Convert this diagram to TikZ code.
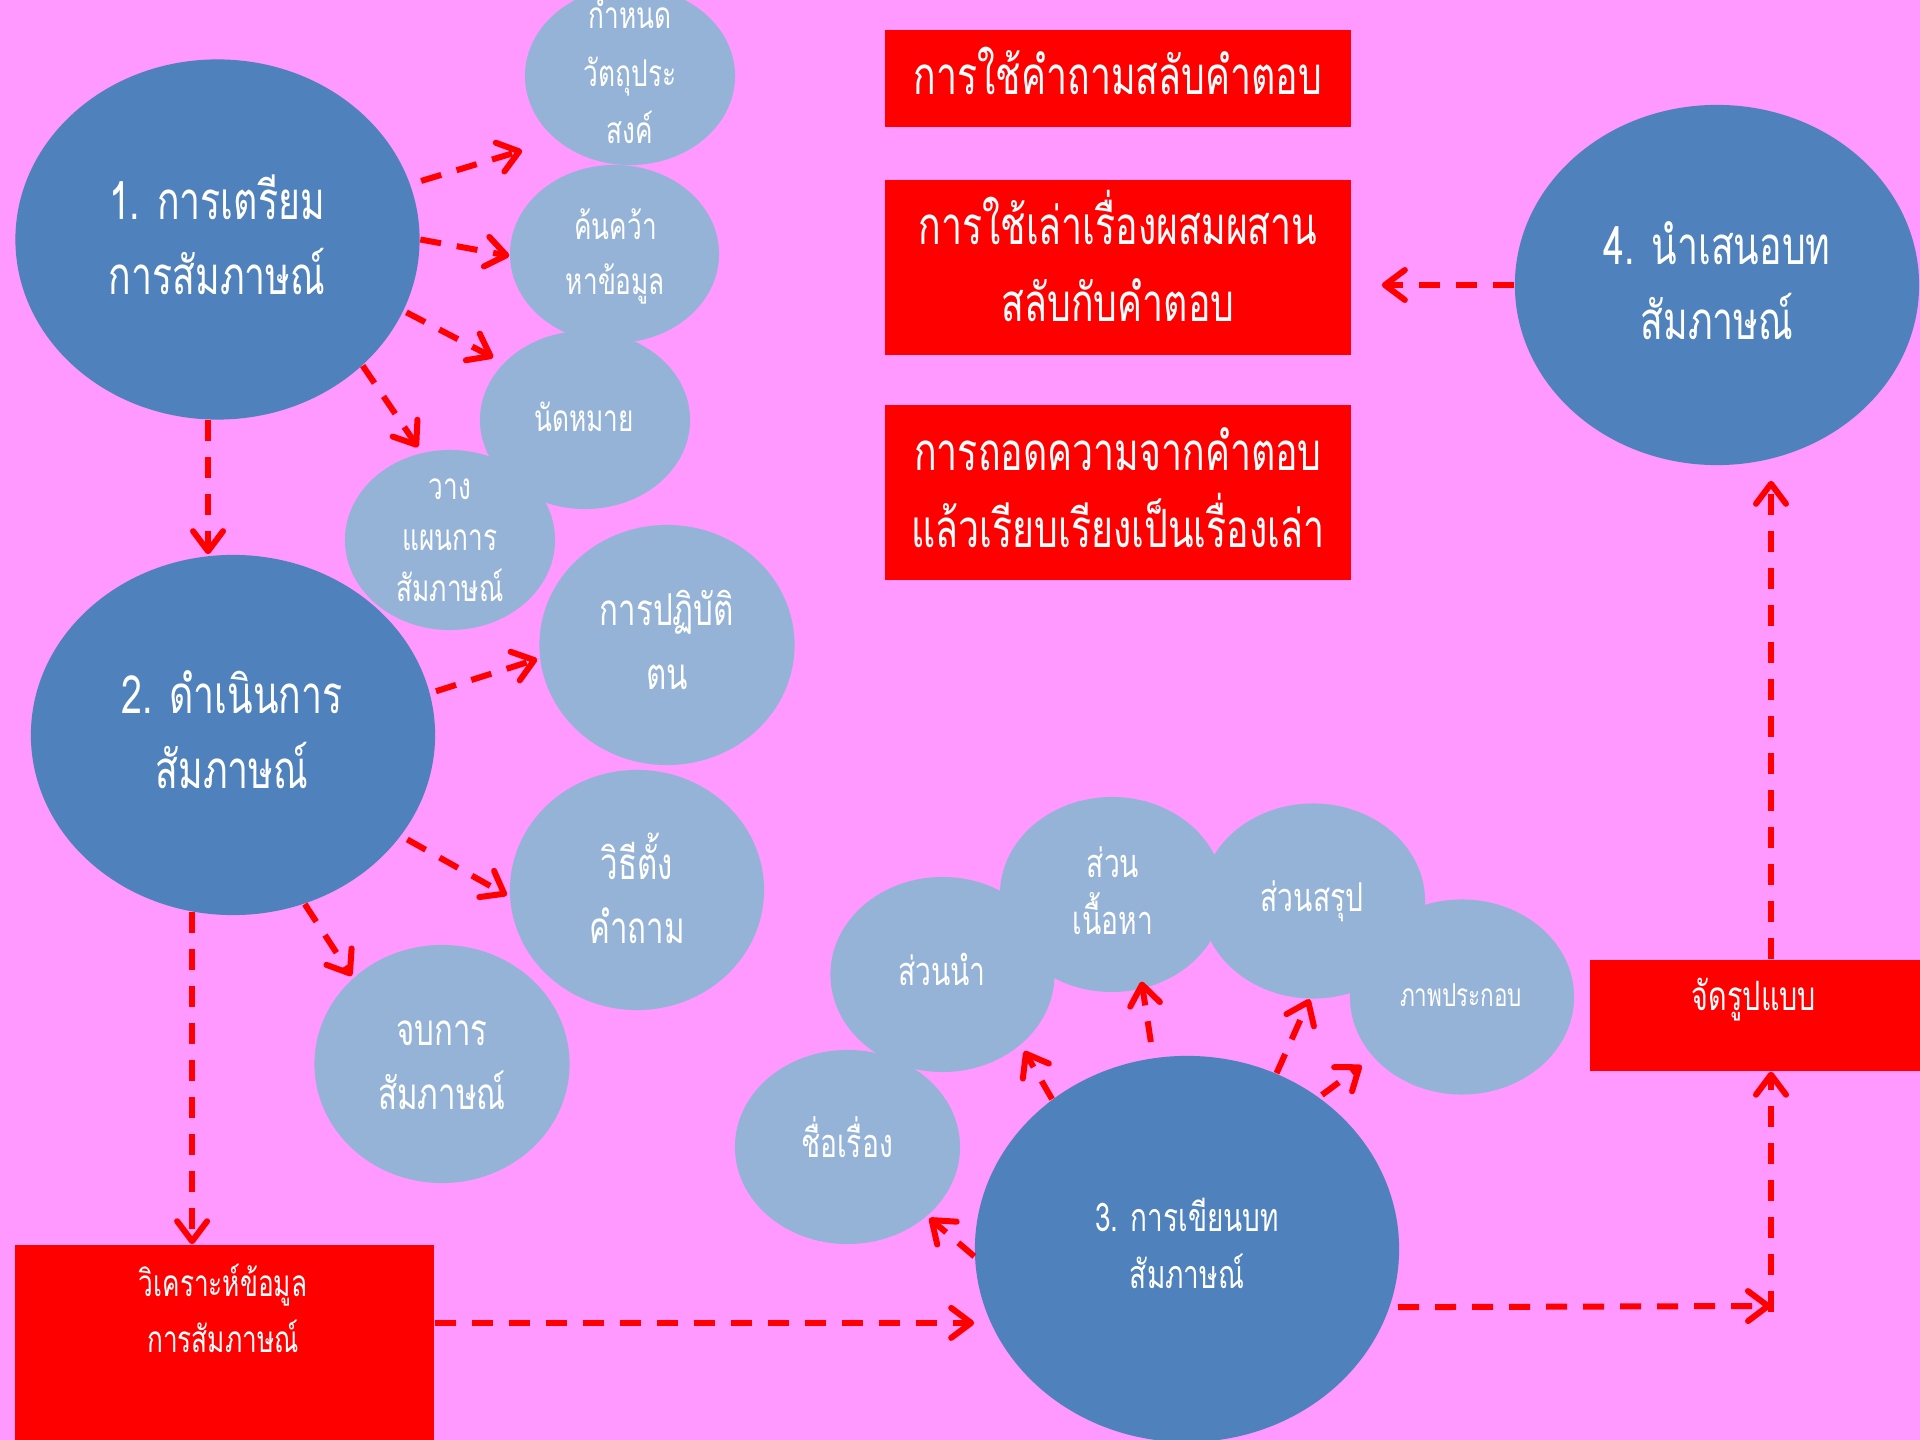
\documentclass[tikz,border=0pt]{standalone}
\usepackage{fontspec}
\newfontfamily\thai[Script=Thai,FakeStretch=0.71]{Loma}
\usetikzlibrary{arrows.meta,shapes.geometric}
\definecolor{bgpink}{HTML}{FF99FF}
\definecolor{darkblue}{HTML}{4F81BD}
\definecolor{lightblue}{HTML}{95B3D7}
\definecolor{boxred}{HTML}{FF0000}
\definecolor{arrowred}{HTML}{FF0000}
% struts that make every text block centre on its letters
\newcommand\onel[1]{\rule[-0.6em]{0pt}{1.7em}#1}
\newcommand\twol[2]{\rule{0pt}{1.1em}#1\\#2\rule[-0.6em]{0pt}{0.6em}}
\newcommand\threel[3]{\rule{0pt}{1.1em}#1\\#2\\#3\rule[-0.6em]{0pt}{0.6em}}
\tikzset{
  stage/.style={ellipse, fill=darkblue, inner sep=0, minimum width=4.04cm, minimum height=3.6cm},
  sub/.style={ellipse, fill=lightblue, inner sep=0},
  redbox/.style={rectangle, fill=boxred, inner sep=0},
  txt/.style={text=white, align=center, inner sep=0},
  fbig/.style={font=\thai\fontsize{15}{21.5}\selectfont},
  fbox/.style={font=\thai\fontsize{15}{21.9}\selectfont},
  fmid/.style={font=\thai\fontsize{12.5}{18.2}\selectfont},
  fthree/.style={font=\thai\fontsize{11.2}{16.2}\selectfont},
  fpart/.style={font=\thai\fontsize{11.3}{16.4}\selectfont},
  ffmt/.style={font=\thai\fontsize{11.5}{16.4}\selectfont},
  fana/.style={font=\thai\fontsize{10.5}{15.9}\selectfont},
  fsmall/.style={font=\thai\fontsize{10.5}{15.6}\selectfont},
  fsmallwide/.style={font=\thai\fontsize{10.5}{16.3}\selectfont},
  fsmalltight/.style={font=\thai\fontsize{10.5}{14.5}\selectfont},
  ftiny/.style={font=\thai\fontsize{9}{12}\selectfont},
  arr/.style={draw=arrowred, line width=0.06cm, dash pattern=on 0.21cm off 0.16cm,
    -{Straight Barb[length=0.2cm,width=0.3cm,round]}},
}
\begin{document}
\begin{tikzpicture}[x=0.01cm, y=-0.01cm]
\useasboundingbox (0,0) rectangle (1920,1440);
\clip (0,0) rectangle (1920,1440);
\fill[bgpink] (0,0) rectangle (1920,1440);

% stage 1 and its steps
\node[stage] (c1) at (217.5,239.5) {};
\node[sub, minimum width=2.1cm, minimum height=1.78cm] (egoal) at (630,76) {};
\node[sub, minimum width=2.09cm, minimum height=1.78cm] (eres) at (614.5,254) {};
\node[sub, minimum width=2.1cm, minimum height=1.78cm] (eappt) at (585,420) {};
\node[sub, minimum width=2.1cm, minimum height=1.8cm] (eplan) at (450,540) {};

% stage 2 and its steps
\node[stage] (c2) at (233,735) {};
\node[sub, minimum width=2.55cm, minimum height=2.4cm] (econd) at (667,645) {};
\node[sub, minimum width=2.54cm, minimum height=2.4cm] (eask) at (637,890) {};
\node[sub, minimum width=2.55cm, minimum height=2.38cm] (eend) at (442,1064) {};

% stage 3 and the parts of the write-up
\node[sub, minimum width=2.24cm, minimum height=1.95cm] (eintro) at (942.5,974.5) {};
\node[sub, minimum width=2.24cm, minimum height=1.95cm] (ebody) at (1112,894.5) {};
\node[sub, minimum width=2.24cm, minimum height=1.95cm] (econcl) at (1313,901) {};
\node[sub, minimum width=2.24cm, minimum height=1.95cm] (epic) at (1462,997) {};
\node[sub, minimum width=2.25cm, minimum height=1.94cm] (etitle) at (847.5,1147) {};
\node[stage, minimum width=4.24cm, minimum height=3.86cm] (c3) at (1187,1249) {};

% stage 4 and the presentation styles
\node[stage] (c4) at (1717,285) {};
\node[redbox, minimum width=4.66cm, minimum height=0.97cm] (b1) at (1118,78.5) {};
\node[redbox, minimum width=4.66cm, minimum height=1.75cm] (b2) at (1118,267.5) {};
\node[redbox, minimum width=4.66cm, minimum height=1.75cm] (b3) at (1118,492.5) {};

% analysis and formatting boxes
\node[redbox, minimum width=4.19cm, minimum height=2.0cm] (bana) at (224.5,1345) {};
\node[redbox, minimum width=3.35cm, minimum height=1.11cm] (bfmt) at (1757.5,1015.5) {};
\coordinate (fmtcorner) at (1771,1306);

% labels
\node[txt, fbig] (c1t) at (217,244) {\twol{1. การเตรียม}{การสัมภาษณ์}};
\node[txt, fsmallwide] (egoalt) at (630,77) {\threel{กำหนด}{วัตถุประ}{สงค์}};
\node[txt, fsmall] (erest) at (615.5,258) {\twol{ค้นคว้า}{หาข้อมูล}};
\node[txt, fsmall] (eapptt) at (584,422) {\onel{นัดหมาย}};
\node[txt, fsmalltight] (eplant) at (450,541) {\threel{วาง}{แผนการ}{สัมภาษณ์}};
\node[txt, fbig] (c2t) at (232,738) {\twol{2. ดำเนินการ}{สัมภาษณ์}};
\node[txt, fmid] (econdt) at (667,647) {\twol{การปฏิบัติ}{ตน}};
\node[txt, fmid] (easkt) at (637,901) {\twol{วิธีตั้ง}{คำถาม}};
\node[txt, fmid] (eendt) at (442,1067) {\twol{จบการ}{สัมภาษณ์}};
\node[txt, fthree] (c3t) at (1187,1250) {\twol{3. การเขียนบท}{สัมภาษณ์}};
\node[txt, fpart] (eintrot) at (942,976) {\onel{ส่วนนำ}};
\node[txt, fpart] (ebodyt) at (1113,896) {\twol{ส่วน}{เนื้อหา}};
\node[txt, fpart] (econclt) at (1312,902) {\onel{ส่วนสรุป}};
\node[txt, ftiny] (epict) at (1461,999) {\onel{ภาพประกอบ}};
\node[txt, fpart] (etitlet) at (847,1148) {\onel{ชื่อเรื่อง}};
\node[txt, fbig] (c4t) at (1717,289) {\twol{4. นำเสนอบท}{สัมภาษณ์}};
\node[txt, fbox] (b1t) at (1118,81) {\onel{การใช้คำถามสลับคำตอบ}};
\node[txt, fbox] (b2t) at (1118,270) {\twol{การใช้เล่าเรื่องผสมผสาน}{สลับกับคำตอบ}};
\node[txt, fbox] (b3t) at (1118,495.5) {\twol{การถอดความจากคำตอบ}{แล้วเรียบเรียงเป็นเรื่องเล่า}};
\node[txt, fana] (banat) at (223,1315) {\twol{วิเคราะห์ข้อมูล}{การสัมภาษณ์}};
\node[txt, ffmt] (bfmtt) at (1754,1000) {\onel{จัดรูปแบบ}};

% connectors
\draw[arr, shorten <=0.11cm, shorten >=0.355cm] (c1.16.5) -- (egoal.221.7);
\draw[arr] (c1.0) -- (eres.181);
\draw[arr, shorten <=0.03cm, shorten >=0.115cm] (c1.-21.6) -- (eappt.145.7);
\draw[arr, shorten >=0.065cm] (c1.-41.9) -- (eplan.108);
\draw[arr] (c1.267.3) -- (c1.267.3 |- c2.north);
\draw[arr, shorten <=0.06cm, shorten >=0.025cm] (c2.12.4) -- (econd.186.3);
\draw[arr, shorten <=0.07cm, shorten >=0.03cm] (c2.-31.4) -- (eask.183.8);
\draw[arr, shorten >=0.023cm] (c2.-67.6) -- (eend.136.7);
\draw[arr] (c2.257.9) -- (c2.257.9 |- bana.north);
\draw[arr] (bana.6.8) -- (bana.6.8 -| c3.west);
\draw[arr, shorten >=0.028cm] (c3.182.9) -- (etitle.-41);
\draw[arr, shorten >=0.069cm] (c3.132.8) -- (eintro.-42.6);
\draw[arr, shorten <=0.158cm, shorten >=-0.075cm] (c3.100.4) -- (ebody.-72.3);
\draw[arr] (c3.63.5) -- (econcl.268.4);
\draw[arr, shorten <=0.036cm, shorten >=0.14cm] (c3.49.4) -- (epic.214.5);
\draw[arr, shorten <=0.08cm] (c3.-16.9) -- (fmtcorner);
\draw[arr, shorten <=-0.06cm] (fmtcorner) -- (fmtcorner |- bfmt.south);
\draw[arr, shorten >=0.15cm] (fmtcorner |- bfmt.north) -- (fmtcorner |- c4.south);
\draw[arr, shorten >=0.30cm] (c4.west) -- (c4.west -| b2.east);
\end{tikzpicture}
\end{document}
